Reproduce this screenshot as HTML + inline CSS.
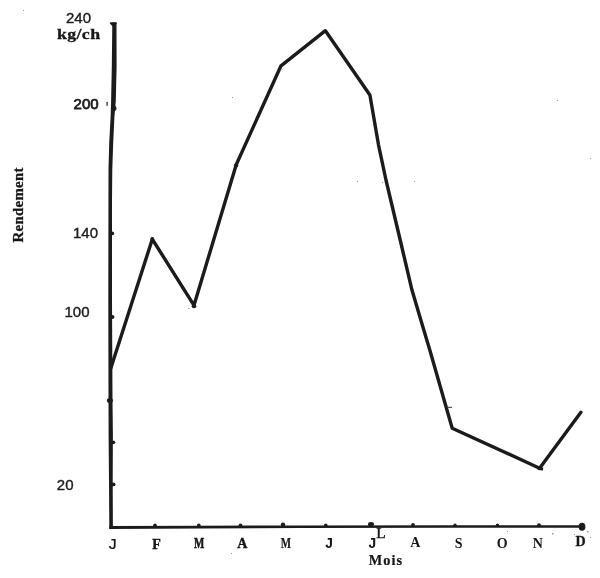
<!DOCTYPE html>
<html>
<head>
<meta charset="utf-8">
<title>Rendement / Mois</title>
<style>
  html, body { margin: 0; padding: 0; background: #ffffff; }
  body { width: 600px; height: 578px; overflow: hidden; font-family: "Liberation Serif", serif; }
  svg { display: block; filter: grayscale(100%); }
  .num { font-family: "Liberation Sans", sans-serif; font-size: 15px; letter-spacing: 0px; fill: #1c1c1c; stroke: #1c1c1c; stroke-width: 0.4px; }
  .lab { font-family: "Liberation Serif", serif; font-size: 14px; font-weight: bold; fill: #161616; stroke: #161616; stroke-width: 0.3px; letter-spacing: 0.3px; }
  .mon { font-family: "Liberation Serif", serif; font-size: 14px; font-weight: bold; fill: #161616; text-anchor: middle; }
  .ink { fill: #1b1b1b; }
</style>
</head>
<body>
<svg width="600" height="578" viewBox="0 0 600 578">
  <rect x="0" y="0" width="600" height="578" fill="#ffffff"/>

  <!-- Y axis (hand drawn, bends between y=100 and y=170) -->
  <polygon class="ink" points="112.3,22.6 111.8,67 111.1,101 110.6,117 109.2,143 108.5,169 108.4,235 108.3,300 108.5,400 108.6,435 109,480 109.3,528.8 112.9,528.8 112.7,480 112.9,435 112.5,400 112,300 112,235 112,200 112.3,169 113.2,143 114.4,117 115.8,101 116.6,67 116.5,22.6"/>
  <!-- knob at top of Y axis -->
  <path class="ink" d="M109.8,23.4 Q109.6,22.2 111,22.2 L116.2,22.2 Q116.8,22.2 116.6,24 L112.4,26.5 Q111.5,24.6 109.8,23.4 Z"/>

  <!-- X axis -->
  <polygon class="ink" points="109.3,526 200,525.7 300,525.45 450,525.3 583,525.2 583,527.8 450,527.8 300,527.95 200,528.4 109.3,528.9"/>
  <ellipse class="ink" cx="582" cy="526.8" rx="3.4" ry="4"/>

  <!-- Y ticks -->
  <g class="ink">
    <ellipse cx="114.8" cy="108.4" rx="1.7" ry="2.4"/>
    <rect x="106.4" y="101.7" width="1.4" height="4.2" rx="0.6" fill="#3a3a3a"/>
    <ellipse cx="112" cy="233.4" rx="2.2" ry="1.9"/>
    <ellipse cx="112.3" cy="317" rx="2.2" ry="1.9"/>
    <ellipse cx="109.9" cy="400.6" rx="3" ry="2.5"/>
    <ellipse cx="113" cy="442.3" rx="2.3" ry="1.9"/>
    <ellipse cx="113.2" cy="484.4" rx="2.3" ry="1.9"/>
  </g>

  <!-- X ticks -->
  <g class="ink">
    <circle cx="155" cy="525.2" r="1.8"/>
    <circle cx="198.8" cy="525.2" r="1.8"/>
    <circle cx="240.5" cy="525.2" r="1.8"/>
    <circle cx="283" cy="524.6" r="2.2"/>
    <circle cx="325.8" cy="525.2" r="1.8"/>
    <ellipse cx="371" cy="524.2" rx="3" ry="2.3"/>
    <circle cx="413" cy="524.9" r="1.9"/>
    <circle cx="455" cy="525.2" r="1.7"/>
    <circle cx="497.5" cy="525.2" r="1.7"/>
    <circle cx="539" cy="525.2" r="1.9"/>
  </g>

  <!-- Data line -->
  <polyline points="110.8,368.2 152.3,239.2 194,305.3 236.3,164.5 281,65.8 325.4,30.7 369.9,95 378.5,144.8 386.2,181 400.2,240 411.9,289.8 423.8,330 429.8,350 452.2,428.2 539.6,468.2 580.9,412.3"
            fill="none" stroke="#1b1b1b" stroke-width="3.4" stroke-linejoin="round" stroke-linecap="round"/>
  <!-- ink blobs at vertices -->
  <g class="ink">
    <ellipse cx="194" cy="306.3" rx="2.3" ry="2"/>
    <ellipse cx="236.1" cy="165.5" rx="2.2" ry="1.9"/>
    <path d="M536.5,467.2 L543.2,467.6 L543,470.6 L538,470 Z"/>
    <circle cx="152.3" cy="239" r="1.9"/>
  </g>
  <!-- faint scan specks -->
  <g fill="#9a9a9a">
    <rect x="232" y="97" width="1" height="1"/>
    <rect x="357" y="181" width="1" height="1"/>
    <rect x="414" y="181" width="1" height="1"/>
    <rect x="382" y="182" width="1" height="1"/>
    <rect x="188" y="308" width="1.5" height="1"/>
    <rect x="590" y="158" width="1" height="1"/>
    <rect x="557" y="100" width="1" height="1"/>
    <rect x="552" y="533" width="1.5" height="1.5"/>
    <rect x="587" y="531" width="1.5" height="1.5"/>
    <rect x="574" y="534" width="1" height="1"/>
    <rect x="590" y="537" width="1" height="1"/>
    <rect x="507" y="531" width="1" height="1"/>
    <rect x="231" y="553" width="1" height="1"/>
    <rect x="23" y="10" width="1" height="1"/>
  </g>
  <!-- small mark near Sept -->
  <rect x="446.5" y="406.8" width="5.5" height="1" fill="#333"/>

  <!-- Y labels -->
  <text class="num" x="66" y="22.6">240</text>
  <text class="lab" transform="translate(57,39.4) scale(1.27,1)">kg/ch</text>
  <text class="num" x="73.6" y="108.5" style="stroke-width:0.75px">200</text>
  <text class="num" x="73" y="238.2">140</text>
  <text class="num" x="64.5" y="317.1">100</text>
  <text class="num" x="56.8" y="490.1">20</text>

  <!-- Y title -->
  <text class="lab" transform="translate(22.5,242.5) rotate(-90) scale(1.06,1)">Rendement</text>

  <!-- Month labels -->
  <text class="mon" transform="translate(112.6,548.8) scale(1.15,1)" style="font-family:'Liberation Mono',monospace;font-size:14.5px;font-weight:normal;stroke:#161616;stroke-width:0.2px">J</text>
  <text class="mon" x="156.6" y="548.5" style="stroke:#161616;stroke-width:0.4px">F</text>
  <text class="mon" transform="translate(199.1,548) scale(0.78,1)" style="stroke:#161616;stroke-width:0.5px">M</text>
  <text class="mon" x="242.2" y="548" style="stroke:#161616;stroke-width:0.4px">A</text>
  <text class="mon" transform="translate(285.8,547.8) scale(0.78,1)" style="stroke:#161616;stroke-width:0.2px">M</text>
  <text class="mon" x="329.2" y="547.7" style="font-family:'Liberation Mono',monospace;font-size:14.5px">J</text>
  <text class="mon" x="372.4" y="547.7" style="font-family:'Liberation Mono',monospace;font-size:14.5px">J</text>
  <text class="mon" x="415.3" y="547.3">A</text>
  <text class="mon" x="458.7" y="547.7">S</text>
  <text class="mon" x="502.3" y="547.7">O</text>
  <text class="mon" x="537.7" y="547.7">N</text>
  <text class="mon" x="580.6" y="546.2" style="stroke:#161616;stroke-width:0.3px">D</text>
  <text transform="translate(380.9,537.6) scale(1.08,1)" style="font-family:'Liberation Serif',serif;font-size:14.4px;text-anchor:middle;fill:#1a1a1a;stroke:#1a1a1a;stroke-width:0.45px">L</text>

  <!-- X title -->
  <text class="lab" transform="translate(368.7,565.3) scale(1.02,1)" style="stroke-width:0.2px;letter-spacing:1.1px">Mois</text>
</svg>
</body>
</html>
